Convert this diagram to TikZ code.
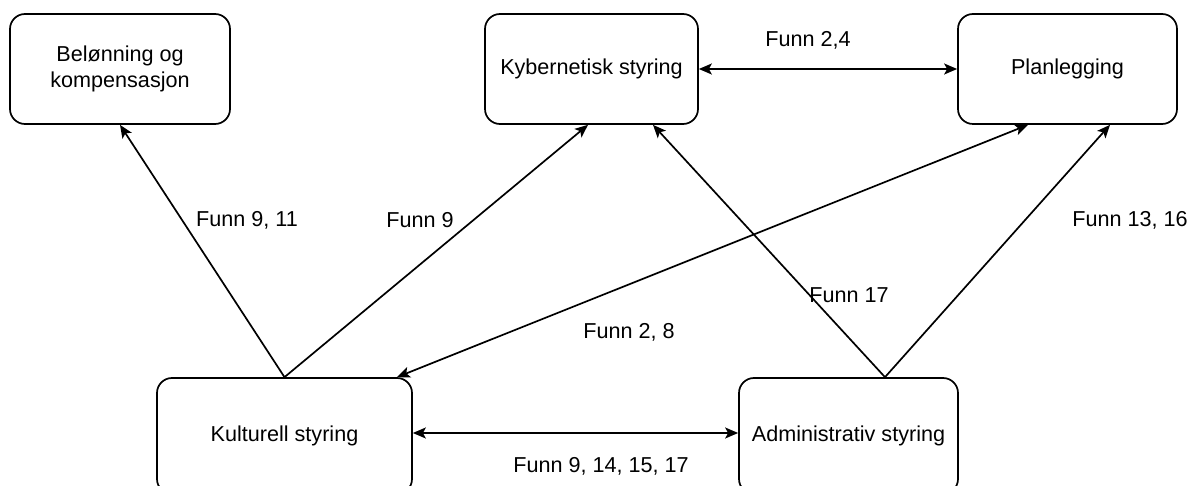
\documentclass[tikz,border=0pt]{standalone}
\usepackage{fontspec}
\setmainfont{Liberation Sans}
\usetikzlibrary{positioning,arrows.meta,calc}
\tikzset{
  ctrl box/.style={
    draw,
    rounded corners=7.5pt,
    line width=0.85pt,
    fill=white,
    inner sep=0pt,
    align=center,
    minimum height=55pt,
    font=\fontsize{10.8}{13}\selectfont
  },
  funn/.style={
    font=\fontsize{10.8}{13}\selectfont
  },
  link/.style={
    -{Stealth[length=6.5pt,width=5.5pt,inset=1.5pt]},
    line width=0.85pt
  },
  both link/.style={
    link,
    {Stealth[length=6.5pt,width=5.5pt,inset=1.5pt]}-{Stealth[length=6.5pt,width=5.5pt,inset=1.5pt]}
  }
}

\begin{document}
\begin{tikzpicture}[x=0.5pt, y=-0.5pt]
  \useasboundingbox (0,0) rectangle (1190,486);

  % Top row
  \node[ctrl box, minimum width=110pt] (belonning) at (120,69) {Belønning og\\kompensasjon};
  \node[ctrl box, minimum width=106.5pt] (kyber) at (591.5,69) {Kybernetisk styring};
  \node[ctrl box, minimum width=109.5pt] (plan) at (1067.5,69) {Planlegging};

  % Bottom row
  \node[ctrl box, minimum width=127.5pt, minimum height=58pt] (kultur) at (284.5,436) {Kulturell styring};
  \node[ctrl box, minimum width=109.5pt, minimum height=58pt] (admin) at (848.5,436) {Administrativ styring};

  % Connectors
  \coordinate (admtop) at ($(admin.north)+(36.5,0)$);
  \coordinate (kulcorner) at ($(kultur.north)+(112.5,0)$);
  \draw[link] (kultur.north) -- (belonning.south);
  \draw[link] (kultur.north) -- ($(kyber.south)+(-3.5,0)$);
  \draw[both link] (kulcorner) -- ($(plan.south)+(-39.5,0)$);
  \draw[link] (admtop) -- ($(kyber.south)+(61.5,0)$);
  \draw[link] (admtop) -- ($(plan.south)+(42.5,0)$);
  \draw[both link] ([yshift=1.5pt]kultur.east) -- ([yshift=1.5pt]admin.west);

  \draw[both link] (kyber.east) -- (plan.west);

  % Labels
  \node[funn] (f1) at (247,220) {Funn 9, 11};
  \node[funn] (f2) at (420,220) {Funn 9};
  \node[funn] (f3) at (629,332) {Funn 2, 8};
  \node[funn] (f4) at (849,295) {Funn 17};
  \node[funn] (f5) at (1130,220) {Funn 13, 16};
  \node[funn] (f6) at (808,40) {Funn 2,4};
  \node[funn] (f7) at (601,466) {Funn 9, 14, 15, 17};
\end{tikzpicture}
\end{document}
